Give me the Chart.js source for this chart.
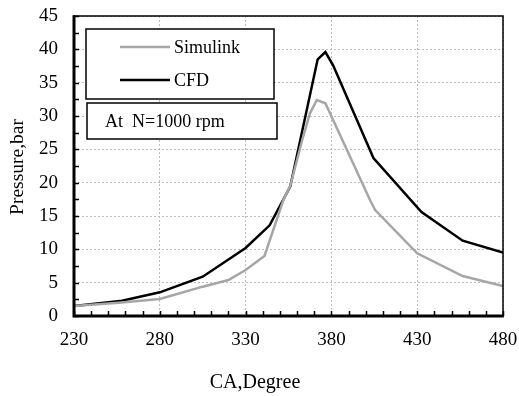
<!DOCTYPE html>
<html>
<head>
<meta charset="utf-8">
<script src="https://cdn.jsdelivr.net/npm/chart.js@4.4.1/dist/chart.umd.min.js"></script>
<style>
  html, body { margin: 0; padding: 0; background: #fff; }
  #wrap { width: 519px; height: 396px; position: relative; }
</style>
</head>
<body>
<div id="wrap"><canvas id="pressureChart" width="519" height="396"></canvas></div>
<script>
// crank angle (deg) and pressure (bar)
const simAngle = [230, 256, 280, 305, 320, 330, 341, 352, 356, 363, 367.5, 371.5, 376.5, 402.5, 405.5, 430, 456.5, 480];
const simPressure = [1.5, 2.0, 2.55, 4.4, 5.4, 6.9, 9.0, 17.4, 19.5, 26.4, 30.4, 32.4, 31.9, 17.4, 15.9, 9.4, 6.0, 4.5];

const cfdAngle = [230, 258, 280, 305, 330, 344, 356, 372, 376.5, 381, 404.5, 432.5, 456.5, 480];
const cfdPressure = [1.5, 2.3, 3.55, 5.9, 10.2, 13.6, 19.4, 38.5, 39.6, 37.6, 23.7, 15.6, 11.3, 9.5];

const xTicks = [230, 280, 330, 380, 430, 480];
const yTicks = [0, 5, 10, 15, 20, 25, 30, 35, 40, 45];

const seriesNames = ['Simulink', 'CFD'];
const seriesColors = ['#a6a6a6', '#000000'];
const noteText = 'At  N=1000 rpm';
const xTitle = 'CA,Degree';
const yTitle = 'Pressure,bar';

const serif = "'Liberation Serif', 'Times New Roman', serif";

function toPoints(xs, ys) {
    return xs.map((x, i) => ({ x: x, y: ys[i] }));
}

// frame, inward minor ticks, legend boxes and axis titles
const decorPlugin = {
    id: 'decor',
    afterDraw(chart) {
        const ctx = chart.ctx;
        const a = chart.chartArea;
        const xs = chart.scales.x;
        const ys = chart.scales.y;
        ctx.save();

        // inner tick marks
        ctx.strokeStyle = '#000';
        ctx.lineWidth = 1.5;
        ctx.beginPath();
        for (let v = 230; v <= 480; v += 10) {
            const px = Math.round(xs.getPixelForValue(v)) + 0.5;
            ctx.moveTo(px, a.bottom);
            ctx.lineTo(px, a.bottom - 5);
        }
        for (let v = 0; v <= 45; v += 2.5) {
            const py = Math.round(ys.getPixelForValue(v)) + 0.5;
            ctx.moveTo(a.left, py);
            ctx.lineTo(a.left + 5, py);
        }
        ctx.stroke();

        // frame
        ctx.lineWidth = 1.5;
        ctx.strokeRect(a.left, a.top, a.right - a.left, a.bottom - a.top);
        ctx.lineWidth = 3;
        ctx.beginPath();
        ctx.moveTo(a.left, a.top - 0.75);
        ctx.lineTo(a.left, a.bottom);
        ctx.lineTo(a.right + 0.75, a.bottom);
        ctx.stroke();

        // legend box
        ctx.fillStyle = '#fff';
        ctx.lineWidth = 1.5;
        ctx.fillRect(86, 29, 188, 70);
        ctx.strokeRect(86, 29, 188, 70);
        ctx.font = '18px ' + serif;
        ctx.textBaseline = 'middle';
        ctx.textAlign = 'left';
        const rows = [47, 80];
        seriesNames.forEach((name, i) => {
            ctx.strokeStyle = seriesColors[i];
            ctx.lineWidth = 2.5;
            ctx.beginPath();
            ctx.moveTo(120, rows[i]);
            ctx.lineTo(170, rows[i]);
            ctx.stroke();
            ctx.fillStyle = '#000';
            ctx.fillText(name, 174, rows[i] + 1);
        });

        // note box
        ctx.strokeStyle = '#000';
        ctx.lineWidth = 1.5;
        ctx.fillStyle = '#fff';
        ctx.fillRect(87, 103, 190, 36);
        ctx.strokeRect(87, 103, 190, 36);
        ctx.fillStyle = '#000';
        ctx.fillText(noteText, 105, 122);

        // axis titles
        ctx.font = '20px ' + serif;
        ctx.textAlign = 'center';
        ctx.fillText(xTitle, 255, 383);
        ctx.font = '19.5px ' + serif;
        ctx.translate(18, 167);
        ctx.rotate(-Math.PI / 2);
        ctx.fillText(yTitle, 0, 0);
        ctx.restore();
    }
};

const ctx = document.getElementById('pressureChart').getContext('2d');
new Chart(ctx, {
    type: 'scatter',
    data: {
        datasets: [
            {
                label: seriesNames[0],
                data: toPoints(simAngle, simPressure),
                showLine: true,
                borderColor: seriesColors[0],
                borderWidth: 2.5,
                pointRadius: 0,
                tension: 0
            },
            {
                label: seriesNames[1],
                data: toPoints(cfdAngle, cfdPressure),
                showLine: true,
                borderColor: seriesColors[1],
                borderWidth: 2.5,
                pointRadius: 0,
                tension: 0
            }
        ]
    },
    options: {
        responsive: false,
        animation: false,
        layout: { padding: { top: 16, right: 16, left: 0, bottom: 0 } },
        plugins: {
            legend: { display: false },
            tooltip: { enabled: false }
        },
        scales: {
            x: {
                type: 'linear',
                min: 230,
                max: 480,
                afterBuildTicks: (scale) => { scale.ticks = xTicks.map(v => ({ value: v })); },
                afterFit: (scale) => {
                    scale.height = 80;
                    scale.paddingLeft = 0;
                    scale.paddingRight = 0;
                },
                ticks: {
                    color: '#000',
                    font: { family: serif, size: 19 },
                    padding: 13,
                    maxRotation: 0
                },
                grid: {
                    drawTicks: false,
                    color: '#bdbdbd',
                    lineWidth: 1
                },
                border: { display: false, dash: [2, 2] }
            },
            y: {
                min: 0,
                max: 45,
                afterBuildTicks: (scale) => { scale.ticks = yTicks.map(v => ({ value: v })); },
                afterFit: (scale) => {
                    scale.width = 74;
                    scale.paddingTop = 0;
                    scale.paddingBottom = 0;
                },
                ticks: {
                    color: '#000',
                    font: { family: serif, size: 19 },
                    padding: 16
                },
                grid: {
                    drawTicks: false,
                    color: '#bdbdbd',
                    lineWidth: 1
                },
                border: { display: false, dash: [2, 2] }
            }
        }
    },
    plugins: [decorPlugin]
});
</script>
</body>
</html>
